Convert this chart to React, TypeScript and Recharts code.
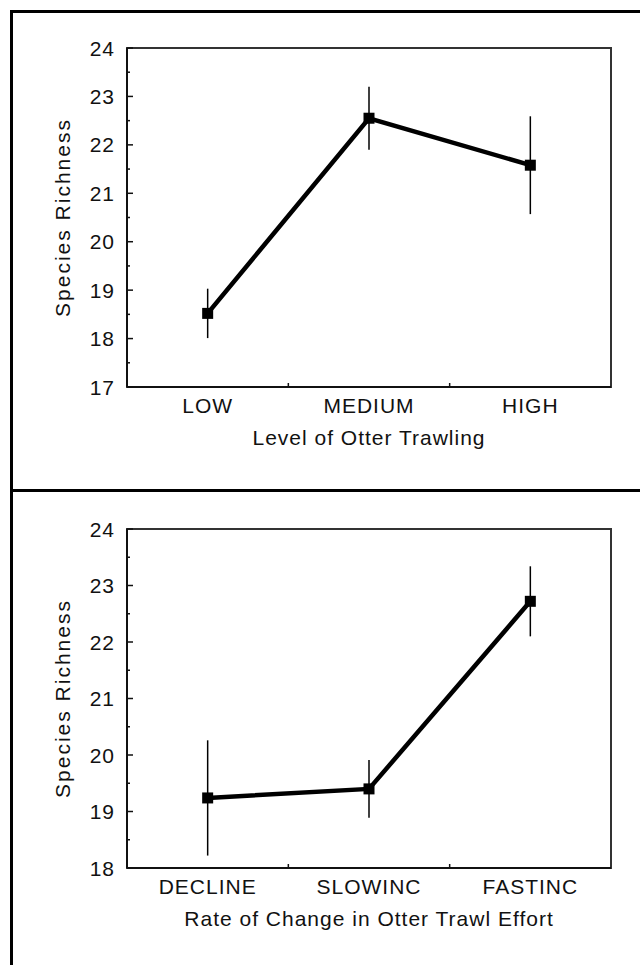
import React from "react";
import { LineChart, Line, XAxis, YAxis, ErrorBar, ReferenceArea } from "recharts";

// panel 1: level of otter trawling
const trawlLevels = ["LOW", "MEDIUM", "HIGH"];
const trawlMeans = [18.52, 22.55, 21.58];
const trawlErrors = [0.51, 0.65, 1.01];
const trawlYTicks = [17, 18, 19, 20, 21, 22, 23, 24];

// panel 2: rate of change in trawl effort
const changeRates = ["DECLINE", "SLOWINC", "FASTINC"];
const changeMeans = [19.24, 19.4, 22.72];
const changeErrors = [1.02, 0.51, 0.62];
const changeYTicks = [18, 19, 20, 21, 22, 23, 24];

const FONT = '"Liberation Sans", Arial, sans-serif';
const INK = "#111";

// integer ticks plus the half-unit minor ticks between them
const withMinor = (ticks: number[]) =>
  ticks.flatMap((t, i) => (i < ticks.length - 1 ? [t, t + 0.5] : [t]));

// category centres sit mid-band, band edges get the small ticks
const bandTicks = (n: number) => {
  const out: number[] = [];
  for (let i = 0; i < n; i++) {
    out.push(i + 0.5);
    if (i < n - 1) out.push(i + 1);
  }
  return out;
};

function YTick(props: any) {
  const { x, y, payload } = props;
  const v = payload.value;
  const major = Number.isInteger(v);
  return (
    <g>
      <line x1={x} x2={x + (major ? 6 : 3)} y1={y} y2={y} stroke={INK} strokeWidth={1.5} />
      {major && (
        <text
          x={x - 12}
          y={y}
          textAnchor="end"
          dominantBaseline="central"
          fontFamily={FONT}
          fontSize={21}
          letterSpacing={1}
          fill={INK}
        >
          {v}
        </text>
      )}
    </g>
  );
}

const makeXTick = (labels: string[]) =>
  function XTick(props: any) {
    const { x, y, payload } = props;
    const v = payload.value;
    if (Number.isInteger(v)) {
      return <line x1={x} x2={x} y1={y} y2={y - 4} stroke={INK} strokeWidth={1.5} />;
    }
    return (
      <text
        x={x}
        y={y + 18}
        textAnchor="middle"
        dominantBaseline="central"
        fontFamily={FONT}
        fontSize={21}
        letterSpacing={1}
        fill={INK}
      >
        {labels[Math.floor(v)]}
      </text>
    );
  };

function XTitle(props: any) {
  const { viewBox, text } = props;
  return (
    <text
      x={viewBox.x + viewBox.width / 2}
      y={viewBox.y + 50}
      textAnchor="middle"
      dominantBaseline="central"
      fontFamily={FONT}
      fontSize={21}
      letterSpacing={1}
      fill={INK}
    >
      {text}
    </text>
  );
}

function YTitle(props: any) {
  const { viewBox, text } = props;
  const cx = 62;
  const cy = viewBox.y + viewBox.height / 2;
  return (
    <text
      x={cx}
      y={cy}
      transform={`rotate(-90 ${cx} ${cy})`}
      textAnchor="middle"
      dominantBaseline="central"
      fontFamily={FONT}
      fontSize={21}
      letterSpacing={2}
      fill={INK}
    >
      {text}
    </text>
  );
}

function SquareDot(props: any) {
  const { cx, cy } = props;
  if (cx == null || cy == null) return null;
  return <rect x={cx - 5.5} y={cy - 5.5} width={11} height={11} fill="#000" />;
}

function MeansPanel(props: {
  labels: string[];
  means: number[];
  errors: number[];
  yTicks: number[];
  xTitle: string;
  height: number;
  top: number;
  bottom: number;
}) {
  const { labels, means, errors, yTicks, xTitle, height, top, bottom } = props;
  const data = labels.map((name, i) => ({ name, x: i + 0.5, mean: means[i], err: errors[i] }));
  const yMin = yTicks[0];
  const yMax = yTicks[yTicks.length - 1];
  return (
    <LineChart width={640} height={height} data={data} margin={{ top, right: 29, left: 0, bottom }}>
      <ReferenceArea
        x1={0}
        x2={labels.length}
        y1={yMin}
        y2={yMax}
        fill="none"
        stroke="#333"
        strokeWidth={2}
      />
      <XAxis
        type="number"
        dataKey="x"
        domain={[0, labels.length]}
        ticks={bandTicks(labels.length)}
        interval={0}
        tickLine={false}
        tickSize={0}
        tickMargin={0}
        height={60}
        axisLine={{ stroke: INK, strokeWidth: 2 }}
        tick={React.createElement(makeXTick(labels))}
        label={<XTitle text={xTitle} />}
      />
      <YAxis
        type="number"
        domain={[yMin, yMax]}
        ticks={withMinor(yTicks)}
        interval={0}
        tickLine={false}
        tickSize={0}
        tickMargin={0}
        width={127}
        axisLine={{ stroke: INK, strokeWidth: 2 }}
        tick={<YTick />}
        label={<YTitle text="Species Richness" />}
      />
      <Line
        type="linear"
        dataKey="mean"
        stroke="#000"
        strokeWidth={4.5}
        dot={<SquareDot />}
        activeDot={false}
        isAnimationActive={false}
      >
        <ErrorBar dataKey="err" direction="y" width={0} stroke="#000" strokeWidth={1.5} />
      </Line>
    </LineChart>
  );
}

export default function App() {
  return (
    <div style={{ position: "absolute", left: 0, top: 0, width: 640, height: 965, background: "#fff" }}>
      <div style={{ position: "absolute", left: 10, top: 10, width: 3, height: 955, background: "#000" }} />
      <div style={{ position: "absolute", left: 10, top: 10, width: 630, height: 3, background: "#000" }} />
      <div style={{ position: "absolute", left: 10, top: 489, width: 630, height: 3, background: "#000" }} />
      <div style={{ position: "absolute", left: 0, top: 0 }}>
        <MeansPanel
          labels={trawlLevels}
          means={trawlMeans}
          errors={trawlErrors}
          yTicks={trawlYTicks}
          xTitle="Level of Otter Trawling"
          height={480}
          top={48}
          bottom={33}
        />
      </div>
      <div style={{ position: "absolute", left: 0, top: 480 }}>
        <MeansPanel
          labels={changeRates}
          means={changeMeans}
          errors={changeErrors}
          yTicks={changeYTicks}
          xTitle="Rate of Change in Otter Trawl Effort"
          height={485}
          top={49}
          bottom={37}
        />
      </div>
    </div>
  );
}
